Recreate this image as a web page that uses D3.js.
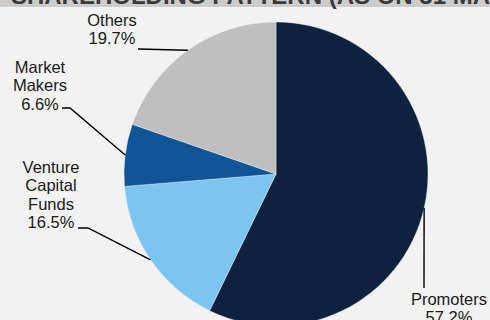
<!DOCTYPE html>
<html>
  <head>
    <meta charset="utf-8">
    <title>shareholding</title>
    <script src="https://d3js.org/d3.v7.min.js"></script>
    <style>
      html, body { margin: 0; padding: 0; background: #f2f2f2; }
      svg { display: block; }
    </style>
  </head>
  <body>
    <div id="wrapper"></div>
    <script>
      // chart data
      var categories = ["Promoters", "Venture Capital Funds", "Market Makers", "Others"];
      var shares = [57.2, 16.5, 6.6, 19.7];
      var colors = ["#0e2240", "#7cc5f0", "#0f5597", "#bfbfbf"];
      var labelLines = [
        ["Promoters", "57.2%"],
        ["Venture", "Capital", "Funds", "16.5%"],
        ["Market", "Makers", "6.6%"],
        ["Others", "19.7%"]
      ];
      var title = "SHAREHOLDING PATTERN (AS ON 31 MARCH 2024)";

      // label placement (text centre, first baseline, leader start, elbow)
      var labelPos = [
        { x: 449, y: 305, from: [424, 288], elbow: null },
        { x: 51,  y: 173, from: [78, 228],  elbow: [88, 228] },
        { x: 40,  y: 73,  from: [62, 108],  elbow: [70, 108] },
        { x: 112, y: 26,  from: [138, 49],  elbow: null }
      ];

      var width = 490, height = 320;
      var cx = 276, cy = 174, radius = 152;
      var lineH = 18.4;

      var svg = d3.select("#wrapper").append("svg")
        .attr("width", width)
        .attr("height", height);

      svg.append("rect")
        .attr("width", width).attr("height", height)
        .attr("fill", "#f2f2f2");

      // title band, mostly cut off at the top
      svg.append("rect")
        .attr("x", 0).attr("y", 0)
        .attr("width", width).attr("height", 7)
        .attr("fill", "#cccccc");

      var titleText = svg.append("text")
        .attr("y", 4)
        .attr("font-family", "Liberation Sans, Arial, sans-serif")
        .attr("font-weight", "bold")
        .attr("font-size", 24)
        .attr("fill", "#3a3a3a")
        .text(title.slice(0, title.indexOf("(")));
      var prefixW = titleText.node().getComputedTextLength();
      titleText.text(title).attr("x", 322 - prefixW);

      var pie = d3.pie().sort(null).value(function(d) { return d; });
      var arcs = pie(shares);
      var arc = d3.arc().innerRadius(0).outerRadius(radius);
      var edge = d3.arc().innerRadius(radius).outerRadius(radius);

      var g = svg.append("g").attr("transform", "translate(" + cx + "," + cy + ")");

      g.selectAll("path")
        .data(arcs)
        .enter().append("path")
        .attr("d", arc)
        .attr("fill", function(d, i) { return colors[i]; })
        .attr("stroke", "#f2f2f2")
        .attr("stroke-width", 0.4);

      // leader lines
      arcs.forEach(function(a, i) {
        var p = labelPos[i];
        var c = edge.centroid(a);
        var pts = [p.from];
        if (p.elbow) pts.push(p.elbow);
        pts.push([cx + c[0], cy + c[1]]);
        svg.append("path")
          .attr("d", d3.line()(pts))
          .attr("fill", "none")
          .attr("stroke", "#000")
          .attr("stroke-width", 1.4);
      });

      // labels
      labelLines.forEach(function(lines, i) {
        var p = labelPos[i];
        var t = svg.append("text")
          .attr("text-anchor", "middle")
          .attr("font-family", "Liberation Sans, Arial, sans-serif")
          .attr("font-size", 16.5)
          .attr("fill", "#1a1a1a");
        lines.forEach(function(s, j) {
          t.append("tspan")
            .attr("x", p.x)
            .attr("y", p.y + j * lineH)
            .text(s);
        });
      });
    </script>
  </body>
</html>
